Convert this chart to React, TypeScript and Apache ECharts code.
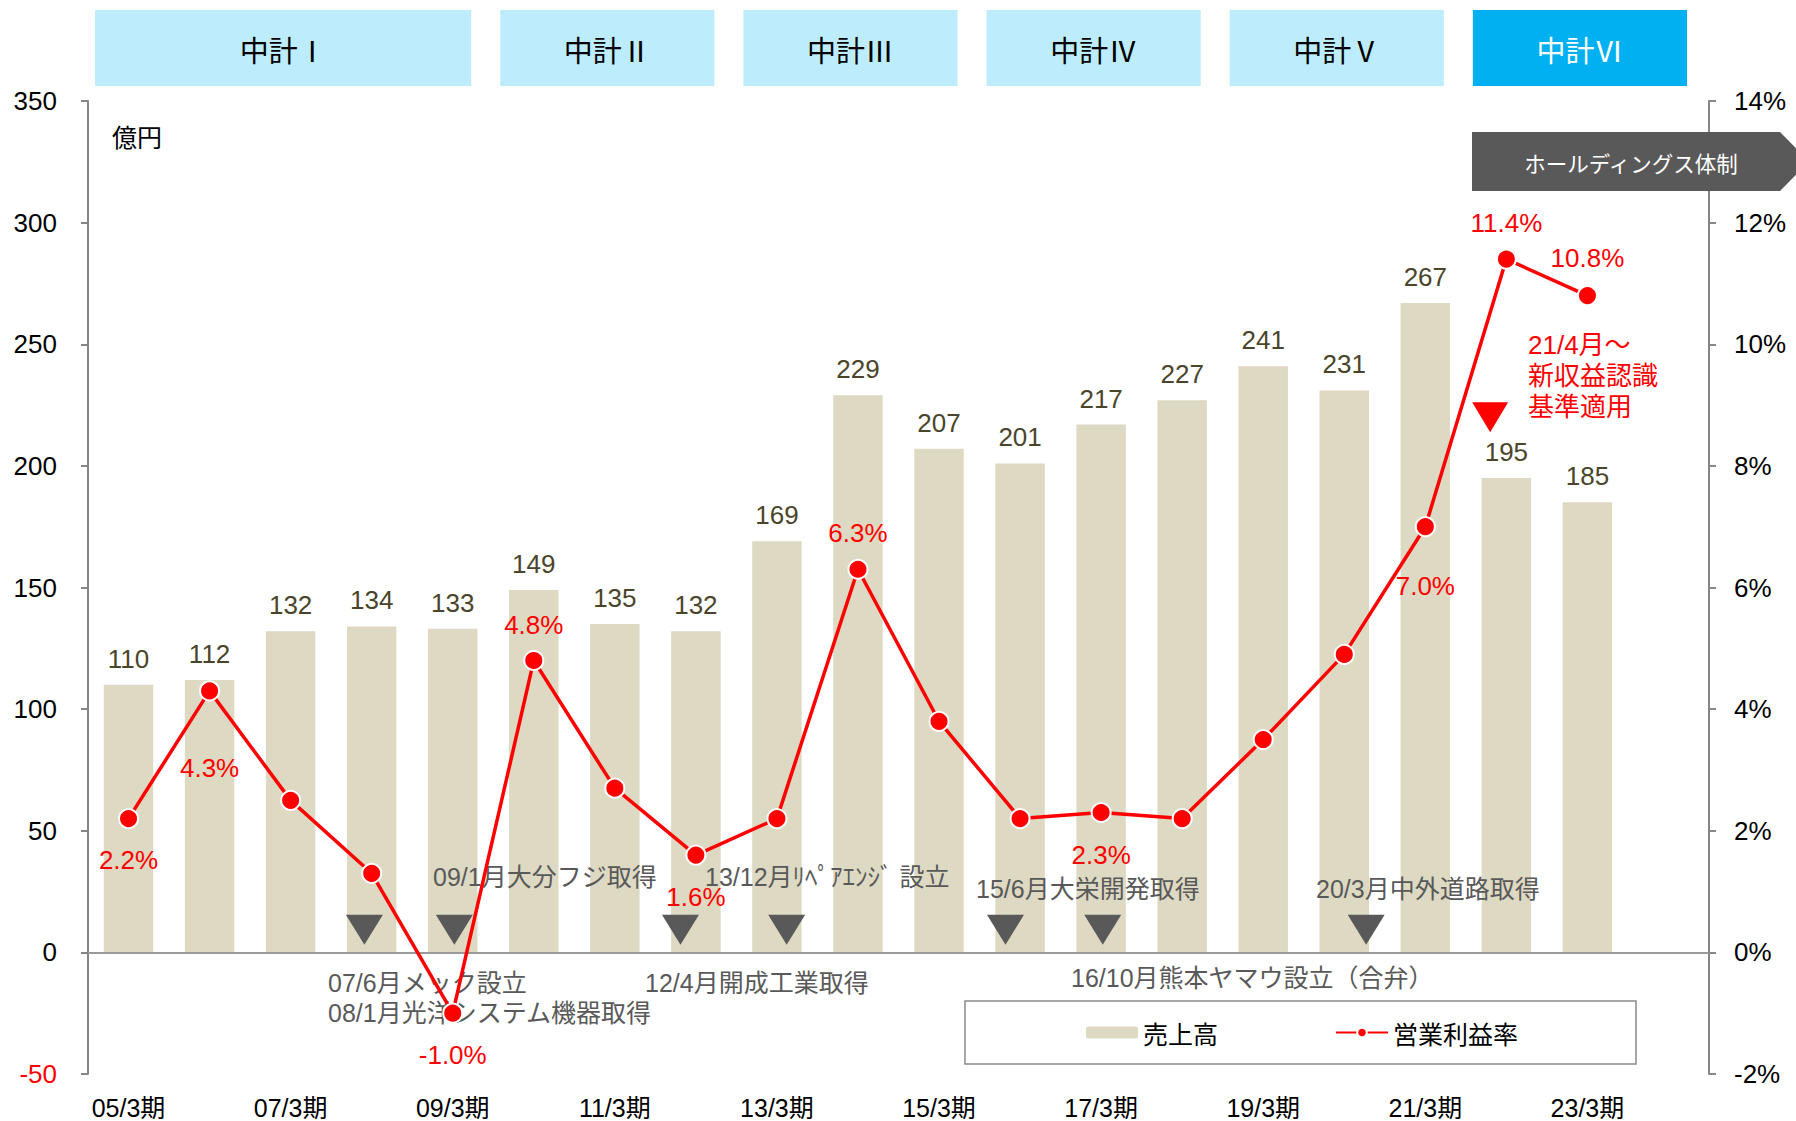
import React, { useEffect, useRef } from "react";
import * as echarts from "echarts";

const categories = [
  "05/3期", "06/3期", "07/3期", "08/3期", "09/3期", "10/3期", "11/3期", "12/3期", "13/3期", "14/3期",
  "15/3期", "16/3期", "17/3期", "18/3期", "19/3期", "20/3期", "21/3期", "22/3期", "23/3期", "24/3期",
];
const sales = [110, 112, 132, 134, 133, 149, 135, 132, 169, 229, 207, 201, 217, 227, 241, 231, 267, 195, 185];
const margin = [2.2, 4.3, 2.5, 1.3, -1.0, 4.8, 2.7, 1.6, 2.2, 6.3, 3.8, 2.2, 2.3, 2.2, 3.5, 4.9, 7.0, 11.4, 10.8];
// which margin points carry a label, where, and how far
const marginLabelPos: (string | null)[] = [
  "bottom", "bottom", null, null, "bottom", "top", null, "bottom", null, "top",
  null, null, "bottom", null, null, null, "bottom", "top", "top",
];
const marginLabelDist = [18, 54, 0, 0, 18, 12, 0, 18, 0, 13, 0, 0, 19, 0, 0, 0, 36, 13, 14];

const leftTicks = { min: -50, max: 350, interval: 50 };
const rightTicks = { min: -2, max: 14, interval: 2 };

// event markers: [fractional category position, height on sales axis]
const eventMarkers = [[2.91, 9.3], [4.02, 9.3], [6.81, 9.3], [8.12, 9.3], [10.82, 9.3], [12.02, 9.3], [15.27, 9.3]];
const revenueMarker = [[16.8, 220]];

const plans = ["中計Ⅰ", "中計Ⅱ", "中計Ⅲ", "中計Ⅳ", "中計Ⅴ", "中計Ⅵ"];
const planStart = [0, 5, 8, 11, 14, 17];
const planLength = [5, 3, 3, 3, 3, 3];

const events = [
  { text: "09/1月大分フジ取得", x: 433, y: 877 },
  { text: "13/12月ﾘﾍﾟｱｴﾝｼﾞ 設立", x: 705, y: 877 },
  { text: "15/6月大栄開発取得", x: 976, y: 889 },
  { text: "20/3月中外道路取得", x: 1316, y: 889 },
  { text: "07/6月メック設立", x: 328, y: 983 },
  { text: "08/1月光洋システム機器取得", x: 328, y: 1013 },
  { text: "12/4月開成工業取得", x: 645, y: 983 },
  { text: "16/10月熊本ヤマウ設立（合弁）", x: 1071, y: 978 },
];

const FONT = "'Liberation Sans', 'Noto Sans CJK JP', sans-serif";
const CJK = "'Noto Sans CJK JP', sans-serif";

export default function App() {
  const ref = useRef<HTMLDivElement>(null);
  useEffect(() => {
    document.body.style.margin = "0";
    const chart = echarts.init(ref.current!, undefined, { renderer: "svg" });
    const lineData = margin.map((v, i) => {
      const pos = marginLabelPos[i];
      return {
        value: v,
        label: pos
          ? { show: true, position: pos, distance: marginLabelDist[i] }
          : { show: false },
      };
    });
    chart.setOption({
      animation: false,
      textStyle: { fontFamily: FONT },
      grid: { left: 88, right: 87, top: 101, bottom: 47, containLabel: false },
      legend: {
        data: ["売上高", "営業利益率"],
        left: 965,
        top: 1001,
        padding: [19, 118, 19, 121],
        itemGap: 117,
        itemWidth: 52,
        itemHeight: 12,
        borderColor: "#8a8a8a",
        borderWidth: 1.5,
        textStyle: { fontSize: 25, color: "#000", fontFamily: CJK },
      },
      xAxis: [
        {
          type: "category",
          data: categories,
          axisLine: { show: false },
          axisTick: { show: false },
          axisLabel: { interval: 1, fontSize: 25, color: "#000", margin: 21 },
        },
        { type: "value", min: -0.5, max: 19.5, show: false },
      ],
      yAxis: [
        {
          type: "value",
          ...leftTicks,
          axisLine: { show: true, onZero: false, lineStyle: { color: "#868686", width: 2 } },
          axisTick: { show: true, length: 7, lineStyle: { color: "#868686", width: 2 } },
          splitLine: { show: false },
          axisLabel: {
            fontSize: 26,
            margin: 31,
            color: (v: any) => (Number(v) < 0 ? "#FF0000" : "#000"),
          },
        },
        {
          type: "value",
          ...rightTicks,
          axisLine: { show: true, onZero: false, lineStyle: { color: "#868686", width: 2 } },
          axisTick: { show: true, length: 7, lineStyle: { color: "#868686", width: 2 } },
          splitLine: { show: false },
          axisLabel: { fontSize: 26, margin: 25, color: "#000", formatter: "{value}%" },
        },
      ],
      series: [
        {
          name: "売上高",
          type: "bar",
          data: [...sales, "-"],
          barWidth: "61%",
          itemStyle: { color: "#DDD9C3" },
          label: { show: true, position: "top", distance: 13, fontSize: 26, color: "#4A452A" },
          markLine: {
            silent: true,
            symbol: ["none", "none"],
            label: { show: false },
            lineStyle: { color: "#9a9a9a", width: 2, type: "solid" },
            data: [{ yAxis: 0 }],
          },
          z: 1,
        },
        {
          name: "events",
          type: "scatter",
          xAxisIndex: 1,
          yAxisIndex: 0,
          data: eventMarkers,
          symbol: "triangle",
          symbolRotate: 180,
          symbolSize: [37, 30],
          itemStyle: { color: "#595959", opacity: 1 },
          z: 2,
        },
        {
          name: "revenue",
          type: "scatter",
          xAxisIndex: 1,
          yAxisIndex: 0,
          data: revenueMarker,
          symbol: "triangle",
          symbolRotate: 180,
          symbolSize: [36, 30],
          itemStyle: { color: "#FF0000", opacity: 1 },
          z: 2,
        },
        {
          name: "営業利益率",
          type: "line",
          yAxisIndex: 1,
          data: lineData,
          symbol: "circle",
          symbolSize: 19,
          lineStyle: { color: "#FF0000", width: 3.5 },
          itemStyle: { color: "#FF0000", borderColor: "#fff", borderWidth: 2 },
          label: {
            fontSize: 26,
            color: "#FF0000",
            formatter: (p: any) => Number(p.value).toFixed(1) + "%",
          },
          z: 5,
        },
      ],
    });

    const c0 = chart.convertToPixel({ xAxisIndex: 0 }, 0) as number;
    const c1 = chart.convertToPixel({ xAxisIndex: 0 }, 1) as number;
    const band = c1 - c0;
    const graphics: any[] = [];
    plans.forEach((name, i) => {
      const left = c0 - band / 2 + planStart[i] * band + 7;
      const width = planLength[i] * band - 29;
      const last = i === plans.length - 1;
      graphics.push({
        type: "rect",
        shape: { x: left, y: 10, width, height: 76 },
        style: { fill: last ? "#00B0F0" : "#BDEDFD" },
      });
      graphics.push({
        type: "text",
        x: left + width / 2,
        y: 49,
        style: {
          text: name,
          fill: last ? "#fff" : "#000",
          font: `29px ${CJK}`,
          align: "center",
          verticalAlign: "middle",
        },
      });
    });
    graphics.push({
      type: "text",
      x: 112,
      y: 136,
      style: { text: "億円", fill: "#000", font: `25px ${CJK}`, align: "left", verticalAlign: "middle" },
    });
    events.forEach((e) => {
      graphics.push({
        type: "text",
        x: e.x,
        y: e.y,
        z: 3,
        style: { text: e.text, fill: "#595959", font: `25px ${FONT}`, align: "left", verticalAlign: "middle" },
      });
    });
    graphics.push({
      type: "text",
      x: 1528,
      y: 329,
      z: 3,
      style: {
        text: "21/4月～\n新収益認識\n基準適用",
        fill: "#FF0000",
        font: `26px ${FONT}`,
        lineHeight: 31,
        align: "left",
        verticalAlign: "top",
      },
    });
    graphics.push({
      type: "polygon",
      z: 10,
      shape: { points: [[1472, 132], [1780, 132], [1809, 161.5], [1780, 191], [1472, 191]] },
      style: { fill: "#595959" },
    });
    graphics.push({
      type: "text",
      z: 11,
      x: 1631,
      y: 162,
      style: {
        text: "ホールディングス体制",
        fill: "#fff",
        font: `21.5px ${CJK}`,
        align: "center",
        verticalAlign: "middle",
      },
    });
    chart.setOption({ graphic: graphics });

    return () => chart.dispose();
  }, []);
  return <div ref={ref} style={{ width: 1796, height: 1121 }} />;
}
